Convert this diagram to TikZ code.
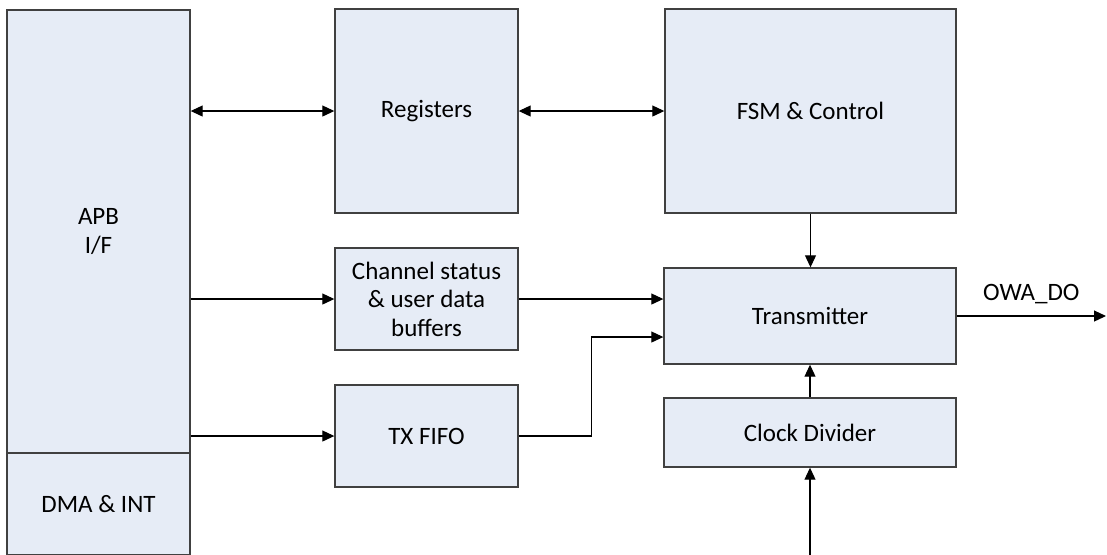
\documentclass[tikz,border=0pt]{standalone}
\usepackage{fontspec}
\setmainfont{Carlito}
\usepackage{tikz}
\usetikzlibrary{positioning,arrows.meta}
\definecolor{blockfill}{HTML}{E6ECF6}
\definecolor{blockline}{HTML}{404040}
\tikzset{
  flowarrow/.style={-{Triangle[length=6pt, width=5.5pt]}, line width=0.55pt},
  biarrow/.style={{Triangle[length=6pt, width=5.5pt]}-{Triangle[length=6pt, width=5.5pt]}, line width=0.55pt},
  blockbox/.style={draw=blockline, fill=blockfill, line width=0.7pt, align=center, inner sep=0pt},
  siglabel/.style={font=\fontsize{12.5}{14.2}\selectfont, inner sep=1pt}
}

\begin{document}
\begin{tikzpicture}[x=0.5pt, y=-0.5pt, every node/.style={font=\fontsize{12.5}{14.2}\selectfont}]
      \useasboundingbox (0,0) rectangle (1107,554);
      \node[blockbox, minimum width=91.5pt, minimum height=221.5pt] (apb) at (98.5,231.5) {APB\\I/F};
      \node[blockbox, minimum width=91.5pt, minimum height=51pt] (dma) at (98.5,504) {DMA \& INT};
      \node[blockbox, minimum width=91.5pt, minimum height=102pt] (regs) at (426.5,111) {Registers};
      \node[blockbox, minimum width=145.5pt, minimum height=102pt] (fsm) at (810.5,111) {FSM \& Control};
      \node[blockbox, minimum width=91.5pt, minimum height=51pt] (chstat) at (426.5,299) {Channel status\\\& user data\\buffers};
      \node[blockbox, minimum width=91.5pt, minimum height=51pt] (txfifo) at (426.5,436) {TX FIFO};
      \node[blockbox, minimum width=146pt, minimum height=48pt] (tx) at (810,316) {Transmitter};
      \node[blockbox, minimum width=146pt, minimum height=34.5pt] (clkdiv) at (810,432.5) {Clock Divider};
      \coordinate (clkin) at (810,556);
      \coordinate (owa) at (1106,316);
      \draw[biarrow] (regs.west -| apb.east) -- (regs.west);
      \draw[biarrow] (regs.east) -- (fsm.west);
      \draw[flowarrow] (fsm.south) -- (fsm.south |- tx.north);
      \draw[flowarrow] (chstat.west -| apb.east) -- (chstat.west);
      \draw[flowarrow] (chstat.east) -- (chstat.east -| tx.west);
      \draw[flowarrow] (txfifo.west -| apb.east) -- (txfifo.west);
      \draw[flowarrow] (txfifo.east) -- ++(73,0) |- ([yshift=-10.5pt]tx.west);
      \draw[flowarrow] (clkdiv.north) -- (tx.south);
      \draw[flowarrow] (clkin) -- (clkdiv.south);
      \draw[flowarrow] (tx.east) -- node[siglabel, above=5pt] (owalabel) {OWA\_DO} (owa);
    \end{tikzpicture}
\end{document}
